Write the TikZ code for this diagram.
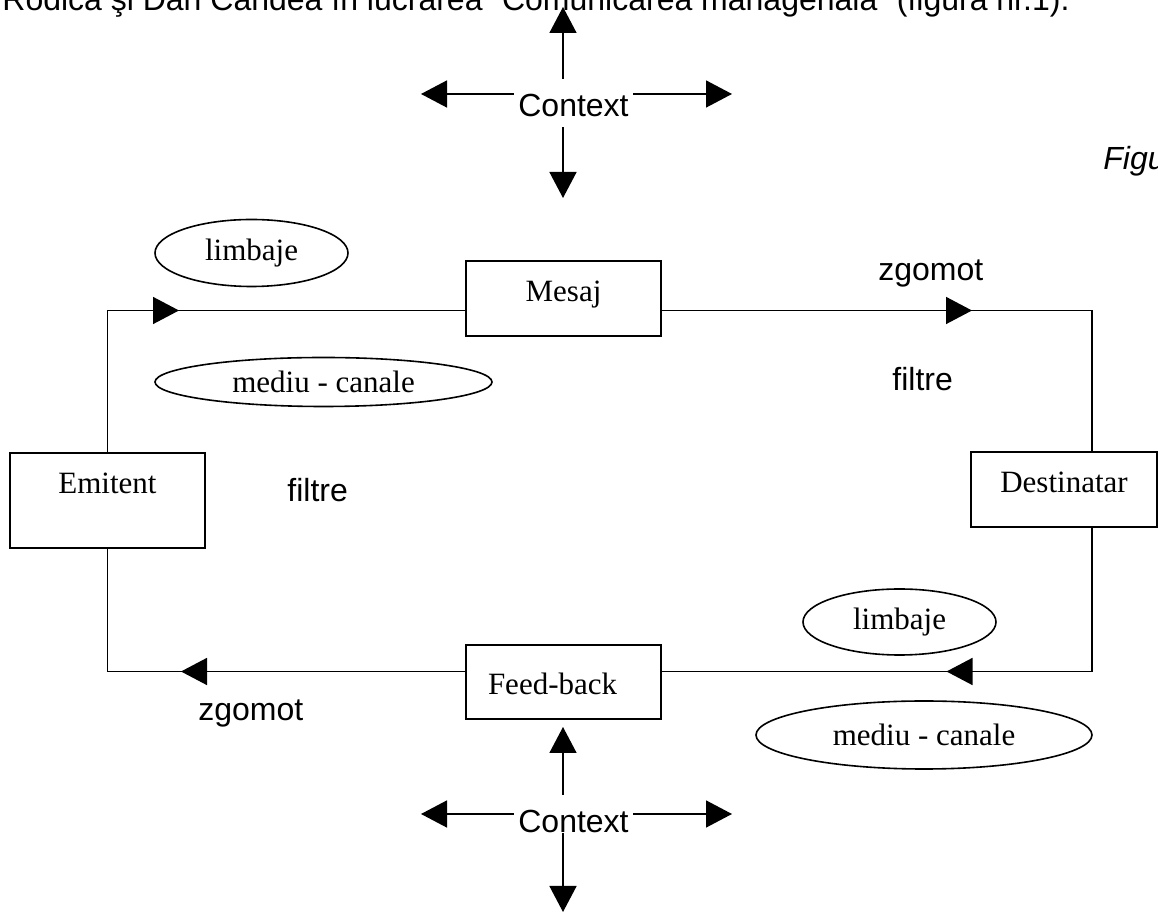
\documentclass[tikz,border=0pt]{standalone}
\usepackage{fontspec}
\setmainfont{Liberation Serif}
\setsansfont{Liberation Sans}
\usetikzlibrary{arrows.meta,shapes.geometric,decorations.markings}

\tikzset{
  box/.style={draw, line width=1pt, inner sep=0pt, minimum width=97.5pt,
    minimum height=37.5pt, font=\fontsize{15.5pt}{18pt}\selectfont},
  oval/.style={draw, ellipse, line width=0.8pt, inner sep=0pt,
    font=\fontsize{15.5pt}{18pt}\selectfont},
  lbl/.style={inner sep=0pt, anchor=base west,
    font=\sffamily\fontsize{16pt}{19pt}\selectfont},
  ctx/.style={inner xsep=2pt, inner ysep=5pt, text height=14pt, text depth=0pt,
    anchor=base, font=\sffamily\fontsize{16pt}{19pt}\selectfont},
  link/.style={line width=0.75pt},
  tipped/.style={link, -{Triangle[length=13pt,width=13.5pt]}},
  flowmark/.style={link, postaction=decorate, decoration={markings,
    mark=at position #1 with {\arrow{Triangle[length=13pt,width=13.5pt]}}}},
}

\begin{document}
\begin{tikzpicture}[x=0.5pt,y=-0.5pt]
\useasboundingbox (0,0) rectangle (1158,913);
\clip (0,0) rectangle (1158,913);

% heading lines
\node[lbl] (source) at (2,11) {Rodica şi Dan Candea în lucrarea "Comunicarea managerială" (figura nr.1).};
\node[lbl, font=\sffamily\itshape\fontsize{16pt}{19pt}\selectfont] (figlabel) at (1103,170) {Figura nr.1};

% boxes
\node[box, text height=11pt, text depth=17.5pt, minimum height=47.5pt] (emitent) at (107.5,500.5) {Emitent};
\node[box, text height=11pt, text depth=7.5pt] (mesaj) at (563.5,298.5) {Mesaj};
\node[box, text height=11pt, text depth=7.5pt, minimum width=93pt] (destinatar) at (1064,489.5) {Destinatar};
\node[box, text height=13pt, text depth=0pt, minimum height=37pt, text width=97.5pt, align=left] (feedback) at (563.5,682) {\hspace*{11pt}Feed-back};

% ellipses
\node[oval, minimum width=96.5pt, minimum height=33.5pt] (limbajeA) at (251.5,253) {limbaje};
\node[oval, minimum width=168.5pt, minimum height=24.5pt] (mediuA) at (323.5,382) {mediu - canale};
\node[oval, minimum width=96.5pt, minimum height=33pt] (limbajeB) at (899.5,622) {limbaje};
\node[oval, minimum width=168pt, minimum height=34pt] (mediuB) at (924,735) {mediu - canale};

% free labels
\node[lbl] (zgomotA) at (878,281) {zgomot};
\node[lbl] (filtreA) at (892,391) {filtre};
\node[lbl] (filtreB) at (287,502) {filtre};
\node[lbl] (zgomotB) at (198,721) {zgomot};

% loop corners
\coordinate (tl) at (107.5,310.5);
\coordinate (tr) at (1092,310.5);
\coordinate (br) at (1092,671.5);
\coordinate (bl) at (107.5,671.5);

% communication loop
\draw[flowmark=106.5pt] (emitent.north) -- (tl) -- (tl -| mesaj.west);
\draw[flowmark=155pt] (mesaj.east |- tr) -- (tr) -- (destinatar.north -| tr);
\draw[flowmark=144.5pt] (destinatar.south -| br) -- (br) -- (feedback.east |- br);
\draw[flowmark=142pt] (feedback.west |- bl) -- (bl) -- (emitent.south);

% upper context
\node[ctx] (ctxT) at (573.5,117) {Context};
\coordinate (tipTU) at (563,7);
\coordinate (tipTD) at (563,198);
\coordinate (tipTL) at (421,94);
\coordinate (tipTR) at (732,94);
\draw[tipped] (ctxT.north -| tipTU) -- (tipTU);
\draw[tipped] (ctxT.south -| tipTD) -- (tipTD);
\draw[tipped] (ctxT.west |- tipTL) -- (tipTL);
\draw[tipped] (ctxT.east |- tipTR) -- (tipTR);

% lower context
\node[ctx] (ctxB) at (573.5,833) {Context};
\coordinate (tipBU) at (563,727);
\coordinate (tipBD) at (563,912);
\coordinate (tipBL) at (421,814);
\coordinate (tipBR) at (732,814);
\draw[tipped] (ctxB.north -| tipBU) -- (tipBU);
\draw[tipped] (ctxB.base -| tipBD) -- (tipBD);
\draw[tipped] (ctxB.west |- tipBL) -- (tipBL);
\draw[tipped] (ctxB.east |- tipBR) -- (tipBR);
\end{tikzpicture}
\end{document}
